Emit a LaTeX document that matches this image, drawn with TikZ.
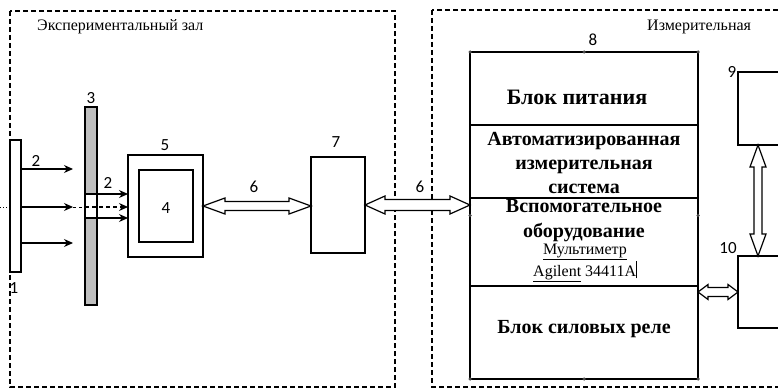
\documentclass[tikz,border=0pt]{standalone}
\usepackage{fontspec}
\setmainfont{Liberation Serif}
\newfontfamily\numfont{Carlito}
\usetikzlibrary{arrows.meta,calc,fit}
\newcommand\hdbl[5]{%
 \draw[dbl] let \p1=(#1), \p2=(#2) in (\x1,\y1) -- (\x1+#3,\y1+#4) -- (\x1+#3,\y1+#5) -- (\x2-#3,\y2+#5) -- (\x2-#3,\y2+#4) -- (\x2,\y2) -- (\x2-#3,\y2-#4) -- (\x2-#3,\y2-#5) -- (\x1+#3,\y1-#5) -- (\x1+#3,\y1-#4) -- cycle;}
\newcommand\vdbl[5]{%
 \draw[dbl] let \p1=(#1), \p2=(#2) in (\x1,\y1) -- (\x1+#4,\y1-#3) -- (\x1+#5,\y1-#3) -- (\x2+#5,\y2+#3) -- (\x2+#4,\y2+#3) -- (\x2,\y2) -- (\x2-#4,\y2+#3) -- (\x2-#5,\y2+#3) -- (\x1-#5,\y1-#3) -- (\x1-#4,\y1-#3) -- cycle;}
\begin{document}
\begin{tikzpicture}[x=1pt,y=-1pt,
 box/.style={draw, line width=1.2pt, inner sep=0pt, outer sep=0pt},
 zone/.style={draw, dash pattern=on 5pt off 3pt, line width=1.1pt},
 num/.style={font=\numfont\fontsize{17}{17}\selectfont, inner sep=0pt},
 ttl/.style={font=\fontsize{16}{16}\selectfont, inner sep=0pt},
 big/.style={font=\bfseries\fontsize{20}{24}\selectfont, align=center, inner sep=0pt},
 sml/.style={font=\fontsize{16}{19}\selectfont, align=center, inner sep=0pt},
 ray/.style={line width=1.2pt, -{Stealth[length=9pt,width=8pt]}},
 dbl/.style={draw, line width=1.2pt, fill=white, line join=miter},
 handle/.style={circle, fill=black!70, inner sep=0pt, minimum size=3.5pt}]
\clip (0,0) rectangle (778,390);
\fill[white] (0,0) rectangle (778,390);
% zones
\draw[zone] (10,11) rectangle (395,387);
\draw[zone] (432,10) rectangle (800,387);
\node[ttl, anchor=west] (t1) at (37,27) {Экспериментальный зал};
\node[ttl, anchor=west] (t2) at (647,27) {Измерительная};
% corner coordinates
\path (10,140) coordinate (e1a) (21,272) coordinate (e1b)
      (85,107) coordinate (e3a) (97,305) coordinate (e3b)
      (85,194) coordinate (w1) (97,218) coordinate (w2)
      (128,155) coordinate (e5a) (203,257) coordinate (e5b)
      (139,170) coordinate (e4a) (193,242) coordinate (e4b)
      (311,157) coordinate (e7a) (365,253) coordinate (e7b)
      (470,52) coordinate (b8a) (698,379) coordinate (b8b)
      (738,72) coordinate (b9a) (810,145) coordinate (b9b)
      (738,256) coordinate (b10a) (810,328) coordinate (b10b);
% element 1
\node[box, fit=(e1a)(e1b)] (e1) {};
% element 3 (gray screen with window)
\fill[black!25] (e3a) rectangle (e3b);
\fill[white] (w1) rectangle (w2);
\node[box, fit=(e3a)(e3b)] (e3) {};
\draw[line width=1.2pt] (w1) -- (w1 -| e3.east);
\draw[line width=1.2pt] (w2) -| (w1 |- w2);
% elements 5, 4, 7
\node[box, fit=(e5a)(e5b)] (e5) {};
\node[box, fit=(e4a)(e4b)] (e4) {};
\node[box, fit=(e7a)(e7b)] (e7) {};
% block 8
\node[box, fit=(b8a)(b8b)] (b8) {};
\draw[line width=1.2pt] (b8.west |- 0,125) -- (b8.east |- 0,125);
\draw[line width=1.2pt] (b8.west |- 0,198) -- (b8.east |- 0,198);
\draw[line width=1.2pt] (b8.west |- 0,286) -- (b8.east |- 0,286);
\foreach \p in {north west,north,north east,west,east,south west,south,south east}
  \node[handle] at (b8.\p) {};
% boxes 9, 10
\node[box, fit=(b9a)(b9b)] (b9) {};
\node[box, fit=(b10a)(b10b)] (b10) {};
% rays from 1
\path (73,169) coordinate (r1) (73,207) coordinate (r2) (73,243) coordinate (r3)
      (0,207) coordinate (src);
\draw[dotted, line width=1pt] (src) -- (e1.west |- r2);
\draw[ray] (e1.east |- r1) -- (r1);
\draw[ray] (e1.east |- r2) -- (r2);
\draw[ray] (e1.east |- r3) -- (r3);
\draw[dashed, line width=1pt] (r2) -- (e3.west |- r2);
% rays through window
\draw[ray] (w1) -- (w1 -| e5.west);
\draw[ray, dash pattern=on 4pt off 3pt] (e3.west |- r2) -- (e5.west |- r2);
\draw[ray] (w1 |- w2) -- (w2 -| e5.west);
% double arrows
\hdbl{e5.east}{e5.east -| e7.west}{22pt}{8pt}{4.5pt}
\hdbl{e7.east}{e7.east -| b8.west}{20pt}{9pt}{5.5pt}
\hdbl{b10.west -| b8.east}{b10.west}{10pt}{7.5pt}{4.5pt}
\coordinate (vx) at (758,0);
\vdbl{b9.south -| vx}{b10.north -| vx}{22pt}{8pt}{4pt}
% texts in block 8
\node[big, font=\bfseries\fontsize{22}{24}\selectfont] (s1) at (577,97) {Блок питания};
\node[big] (s2) at (584,163) {Автоматизированная\\измерительная\\система};
\node[big, font=\bfseries\fontsize{20}{25}\selectfont] (s3) at (584,221) {Вспомогательное\\оборудование};
\node[sml] (s4) at (585,263) {\underline{Мультиметр}\\\underline{Agilent} 34411A\rule[-0.25ex]{0.6pt}{2.4ex}};
\node[big] (s5) at (584,329) {Блок силовых реле};
% number labels
\node[num] (n1) at (14,288) {1};
\node[num] (n2) at (36,161) {2};
\node[num] (n2b) at (108,183) {2};
\node[num] (n3) at (91,98) {3};
\node[num] (n4) at (166,208) {4};
\node[num] (n5) at (165,145) {5};
\node[num] (n6) at (254,187) {6};
\node[num] (n6b) at (420,187) {6};
\node[num] (n7) at (336,142) {7};
\node[num] (n8) at (593,40) {8};
\node[num] (n9) at (732,72) {9};
\node[num] (n10) at (728,248) {10};
\end{tikzpicture}
\end{document}
